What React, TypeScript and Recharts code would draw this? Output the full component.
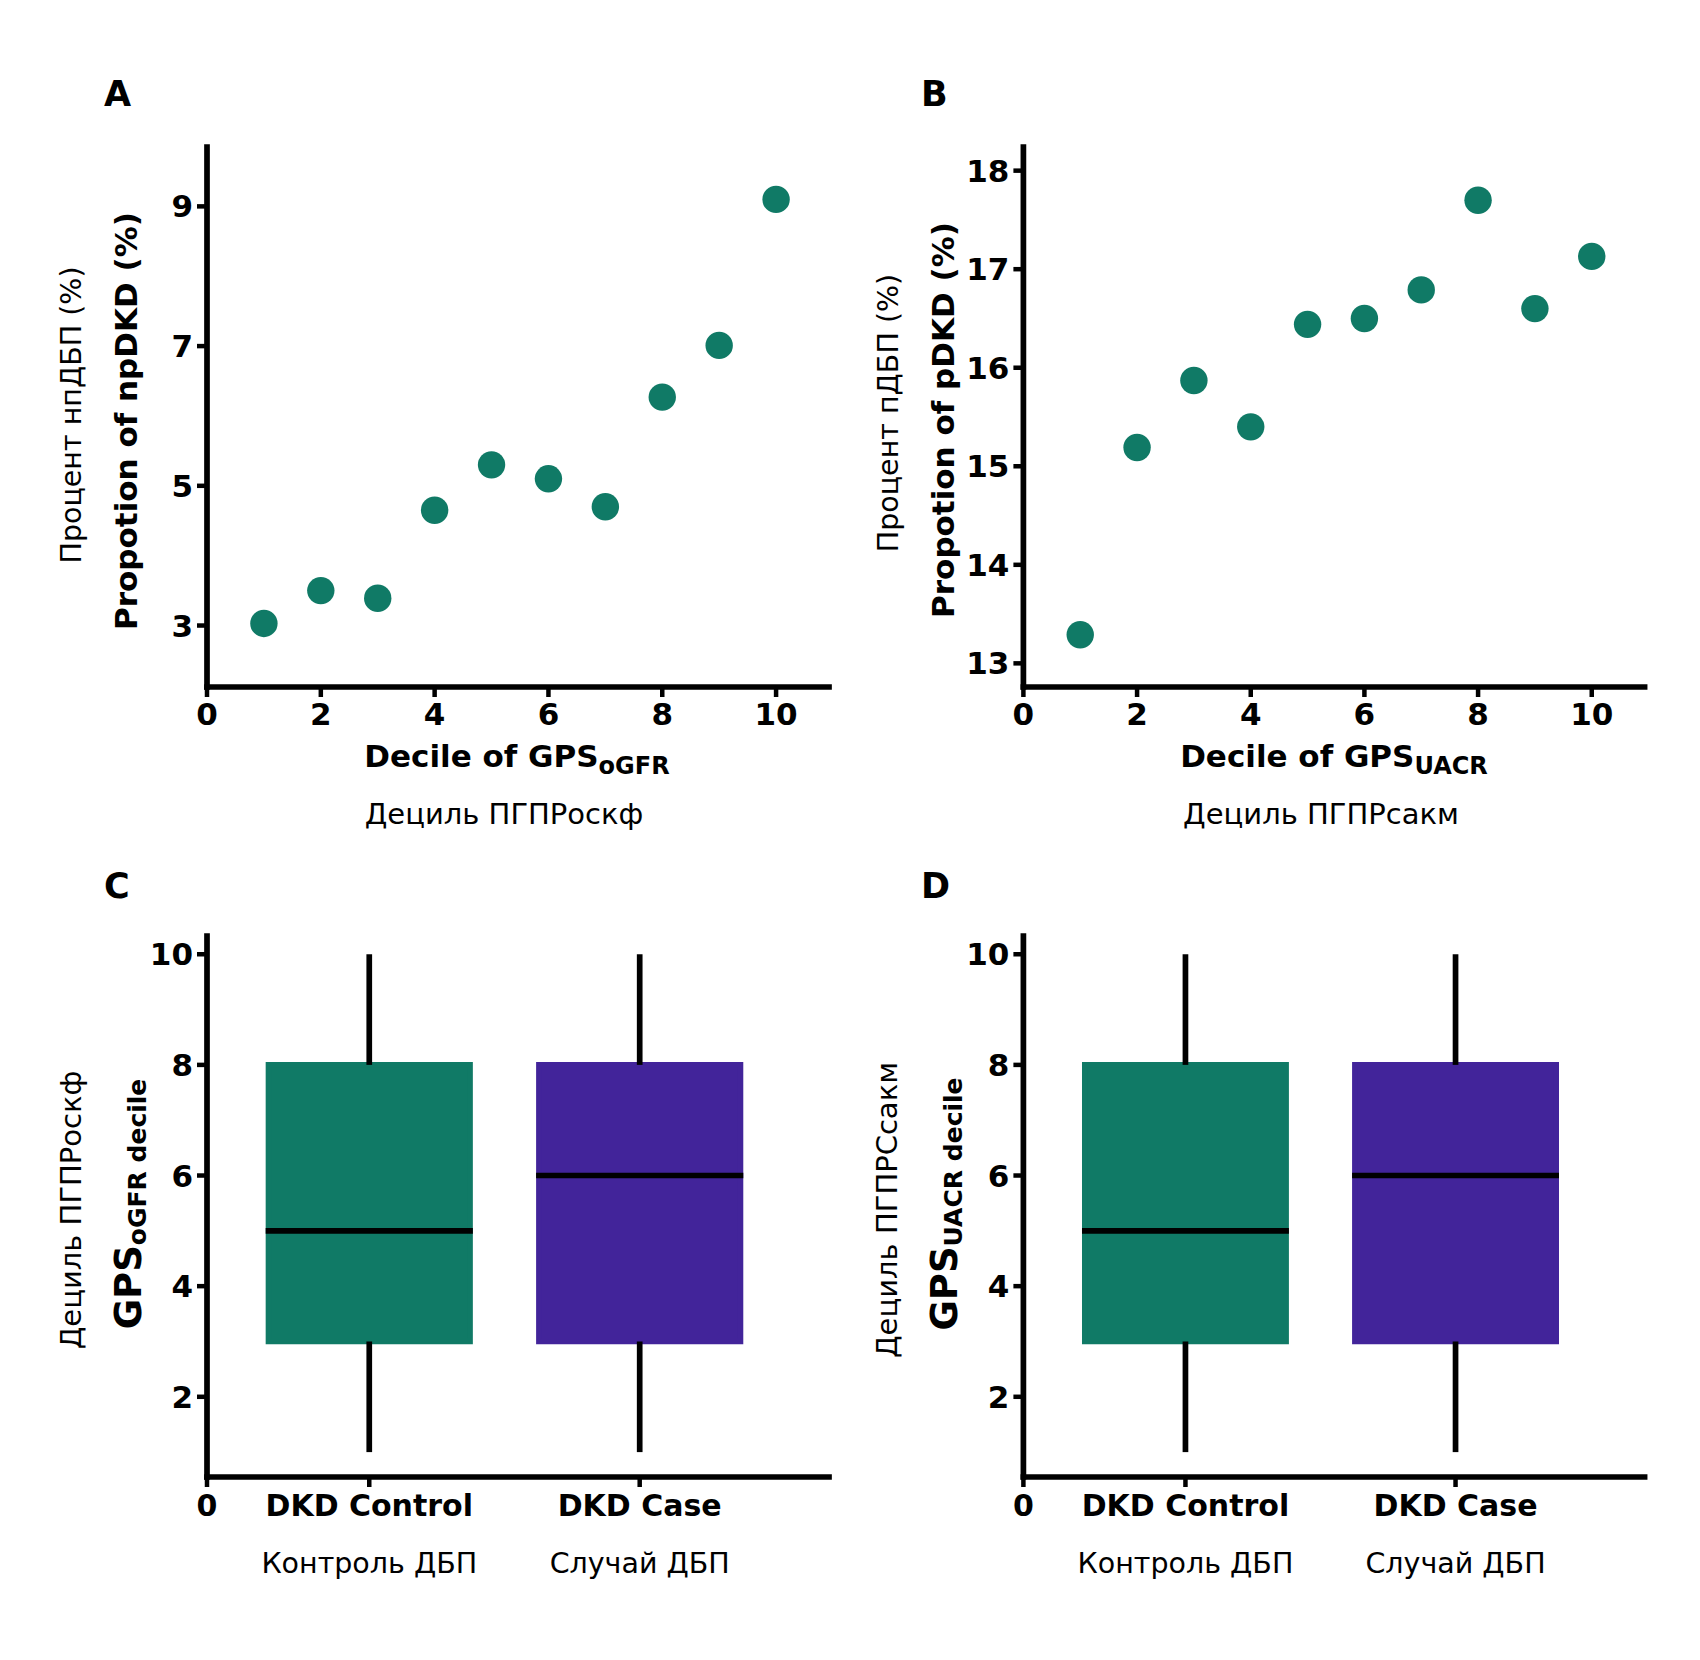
import React from "react";
import {
  ScatterChart,
  Scatter,
  ComposedChart,
  XAxis,
  YAxis,
  ReferenceArea,
  ReferenceLine,
} from "recharts";

// Panels A and B: proportion of cases by GPS decile
const deciles = [1, 2, 3, 4, 5, 6, 7, 8, 9, 10];
const npdkdPct = [3.03, 3.5, 3.39, 4.65, 5.3, 5.1, 4.7, 6.27, 7.01, 9.1];
const pdkdPct = [13.29, 15.19, 15.87, 15.4, 16.44, 16.5, 16.79, 17.7, 16.6, 17.13];
const decileTicks = [0, 2, 4, 6, 8, 10];
const npdkdTicks = [3, 5, 7, 9];
const pdkdTicks = [13, 14, 15, 16, 17, 18];

// Panels C and D: GPS decile by DKD status (box plots)
const groups = ["DKD Control", "DKD Case"];
const groupsRu = ["Контроль ДБП", "Случай ДБП"];
const groupPos = [1, 2];
const boxTicks = [2, 4, 6, 8, 10];
const ogfrMin = [1, 1];
const ogfrQ1 = [3, 3];
const ogfrMedian = [5, 6];
const ogfrQ3 = [8, 8];
const ogfrMax = [10, 10];
const uacrMin = [1, 1];
const uacrQ1 = [3, 3];
const uacrMedian = [5, 6];
const uacrQ3 = [8, 8];
const uacrMax = [10, 10];

const FONT = "'DejaVu Sans', sans-serif";
const GREEN = "#107A66";
const PURPLE = "#42249A";
const boxColors = [GREEN, PURPLE];
const LINE_W = 5.7;
const BOX_HALF = 0.3725;

const axisLine = { stroke: "#000", strokeWidth: LINE_W, strokeLinecap: "square" as const };
const tickLine = { stroke: "#000", strokeWidth: 4.5 };
const tickStyle = { fill: "#000", fontSize: 31, fontWeight: 700, fontFamily: FONT };

const Dot = (props: any) => <circle cx={props.cx} cy={props.cy} r={13.7} fill={GREEN} />;
const NoShape = () => <g />;

function DecilePanel({ left, top, values, yDomain, yTicks, marginLeft, marginRight }: any) {
  const data = deciles.map((d, i) => ({ decile: d, pct: values[i] }));
  return (
    <div style={{ position: "absolute", left, top }}>
      <ScatterChart
        width={850}
        height={830}
        margin={{ top: 147, right: marginRight, bottom: 93, left: marginLeft }}
      >
        <XAxis
          type="number"
          dataKey="decile"
          domain={[0, 10.93]}
          ticks={decileTicks}
          height={50}
          axisLine={axisLine}
          tickLine={tickLine}
          tickSize={10}
          tickMargin={6}
          tick={tickStyle}
          interval={0}
        />
        <YAxis
          type="number"
          dataKey="pct"
          domain={yDomain}
          ticks={yTicks}
          width={60}
          axisLine={axisLine}
          tickLine={tickLine}
          tickSize={10}
          tickMargin={4}
          tick={tickStyle}
          interval={0}
        />
        <Scatter data={data} shape={Dot} isAnimationActive={false} />
      </ScatterChart>
    </div>
  );
}

const GroupTick = (props: any) => {
  const { x, y, payload } = props;
  const i = groupPos.indexOf(payload.value);
  if (i < 0) {
    return (
      <text x={x} y={y} dy="0.71em" textAnchor="middle" fill="#000" fontSize={30} fontWeight={700} fontFamily={FONT}>
        0
      </text>
    );
  }
  return (
    <g>
      <text x={x} y={y} dy="0.71em" textAnchor="middle" fill="#000" fontSize={30} fontWeight={700} fontFamily={FONT}>
        {groups[i]}
      </text>
      <text x={x} y={y + 58} dy="0.71em" textAnchor="middle" fill="#000" fontSize={28.5} fontFamily={FONT}>
        {groupsRu[i]}
      </text>
    </g>
  );
};

function BoxPanel({ left, top, mins, q1s, medians, q3s, maxs, marginLeft, marginRight }: any) {
  const data = groupPos.map((p, i) => ({ pos: p, median: medians[i] }));
  return (
    <div style={{ position: "absolute", left, top }}>
      <ComposedChart
        width={850}
        height={830}
        data={data}
        margin={{ top: 106, right: marginRight, bottom: 73, left: marginLeft }}
      >
        <XAxis
          type="number"
          dataKey="pos"
          domain={[0.4, 2.7]}
          ticks={[0.4, ...groupPos]}
          height={110}
          axisLine={axisLine}
          tickLine={tickLine}
          tickSize={10}
          tickMargin={8}
          tick={GroupTick}
          interval={0}
        />
        <YAxis
          type="number"
          dataKey="median"
          domain={[0.55, 10.33]}
          ticks={boxTicks}
          width={60}
          axisLine={axisLine}
          tickLine={tickLine}
          tickSize={10}
          tickMargin={4}
          tick={tickStyle}
          interval={0}
        />
        {groupPos.map((p, i) => (
          <ReferenceArea
            key={"box" + i}
            x1={p - BOX_HALF}
            x2={p + BOX_HALF}
            y1={q1s[i]}
            y2={q3s[i]}
            fill={boxColors[i]}
            fillOpacity={1}
            stroke={boxColors[i]}
            strokeWidth={LINE_W}
          />
        ))}
        {groupPos.map((p, i) => (
          <ReferenceLine
            key={"wlo" + i}
            segment={[{ x: p, y: mins[i] }, { x: p, y: q1s[i] }]}
            stroke="#000"
            strokeWidth={LINE_W}
          />
        ))}
        {groupPos.map((p, i) => (
          <ReferenceLine
            key={"whi" + i}
            segment={[{ x: p, y: q3s[i] }, { x: p, y: maxs[i] }]}
            stroke="#000"
            strokeWidth={LINE_W}
          />
        ))}
        {groupPos.map((p, i) => (
          <ReferenceLine
            key={"med" + i}
            segment={[{ x: p - BOX_HALF, y: medians[i] }, { x: p + BOX_HALF, y: medians[i] }]}
            stroke="#000"
            strokeWidth={LINE_W}
            strokeLinecap="square"
          />
        ))}
        <Scatter dataKey="median" shape={NoShape} isAnimationActive={false} />
      </ComposedChart>
    </div>
  );
}

const bold = { fontFamily: FONT, fontWeight: 700, fill: "#000" };
const light = { fontFamily: FONT, fontWeight: 400, fill: "#000" };

function Titles() {
  return (
    <svg
      width={1700}
      height={1660}
      style={{ position: "absolute", left: 0, top: 0, pointerEvents: "none" }}
    >
      <text x={104} y={106} fontSize={35} {...bold}>A</text>
      <text x={921} y={106} fontSize={35} {...bold}>B</text>
      <text x={104} y={898} fontSize={35} {...bold}>C</text>
      <text x={921} y={898} fontSize={35} {...bold}>D</text>

      <text x={517} y={767} textAnchor="middle" fontSize={31} {...bold}>
        Decile of GPS<tspan fontSize={24} dy={7}>oGFR</tspan>
      </text>
      <text x={504} y={824} textAnchor="middle" fontSize={29} {...light}>Дециль ПГПРоскф</text>
      <text x={1334} y={767} textAnchor="middle" fontSize={31} {...bold}>
        Decile of GPS<tspan fontSize={24} dy={7}>UACR</tspan>
      </text>
      <text x={1321} y={824} textAnchor="middle" fontSize={29} {...light}>Дециль ПГПРсакм</text>

      <text x={137} y={421} transform="rotate(-90 137 421)" textAnchor="middle" fontSize={31} {...bold}>
        Propotion of npDKD (%)
      </text>
      <text x={81} y={415} transform="rotate(-90 81 415)" textAnchor="middle" fontSize={28.5} {...light}>
        Процент нпДБП (%)
      </text>
      <text x={954} y={420} transform="rotate(-90 954 420)" textAnchor="middle" fontSize={31} {...bold}>
        Propotion of pDKD (%)
      </text>
      <text x={898} y={413} transform="rotate(-90 898 413)" textAnchor="middle" fontSize={28.5} {...light}>
        Процент пДБП (%)
      </text>

      <text x={141} y={1204} transform="rotate(-90 141 1204)" textAnchor="middle" fontSize={37} {...bold}>
        GPS<tspan fontSize={25} dy={5}>oGFR decile</tspan>
      </text>
      <text x={81} y={1210} transform="rotate(-90 81 1210)" textAnchor="middle" fontSize={29} {...light}>
        Дециль ПГПРоскф
      </text>
      <text x={957} y={1204} transform="rotate(-90 957 1204)" textAnchor="middle" fontSize={37} {...bold}>
        GPS<tspan fontSize={25} dy={5}>UACR decile</tspan>
      </text>
      <text x={897} y={1210} transform="rotate(-90 897 1210)" textAnchor="middle" fontSize={29} {...light}>
        Дециль ПГПРСсакм
      </text>
    </svg>
  );
}

export default function App() {
  return (
    <div style={{ position: "absolute", left: 0, top: 0, width: 1700, height: 1660, background: "#fff" }}>
      <DecilePanel
        left={0}
        top={0}
        values={npdkdPct}
        yDomain={[2.12, 9.85]}
        yTicks={npdkdTicks}
        marginLeft={147}
        marginRight={21}
      />
      <DecilePanel
        left={850}
        top={0}
        values={pdkdPct}
        yDomain={[12.76, 18.24]}
        yTicks={pdkdTicks}
        marginLeft={113.4}
        marginRight={55.4}
      />
      <BoxPanel
        left={0}
        top={830}
        mins={ogfrMin}
        q1s={ogfrQ1}
        medians={ogfrMedian}
        q3s={ogfrQ3}
        maxs={ogfrMax}
        marginLeft={147}
        marginRight={21}
      />
      <BoxPanel
        left={850}
        top={830}
        mins={uacrMin}
        q1s={uacrQ1}
        medians={uacrMedian}
        q3s={uacrQ3}
        maxs={uacrMax}
        marginLeft={113.4}
        marginRight={55.4}
      />
      <Titles />
    </div>
  );
}
